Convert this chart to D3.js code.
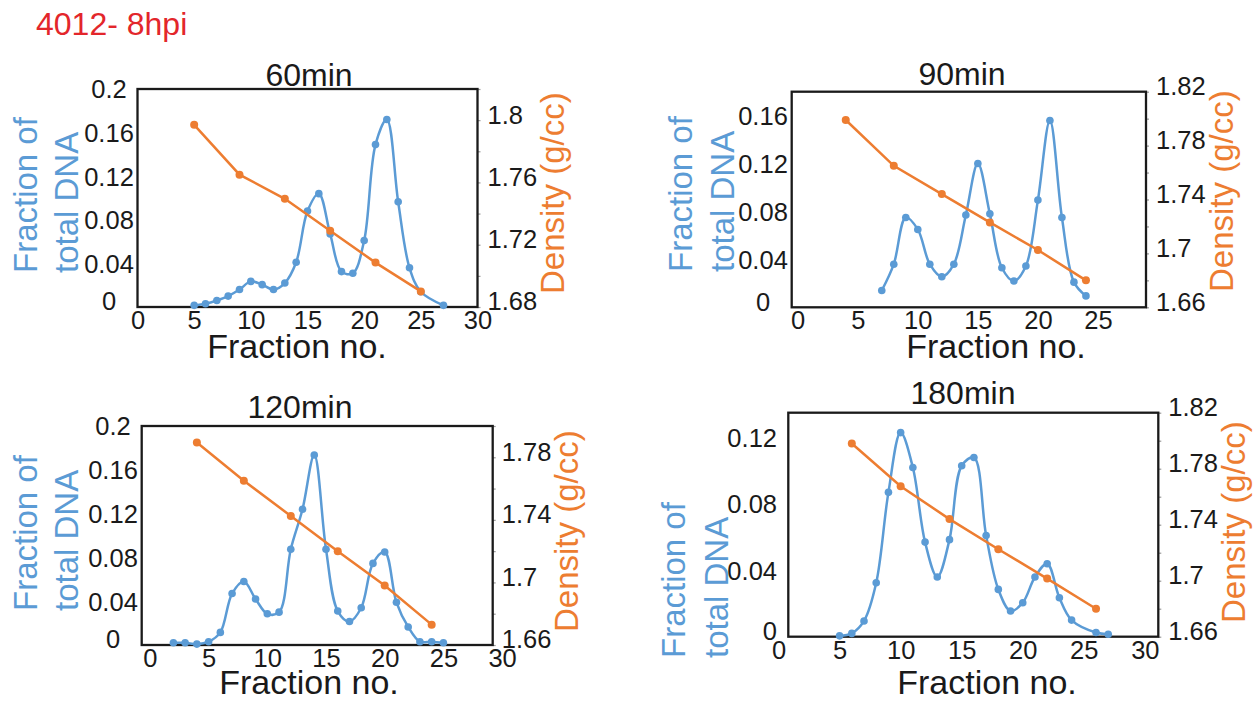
<!DOCTYPE html>
<html>
<head>
<meta charset="utf-8">
<script src="https://cdn.jsdelivr.net/npm/d3@7/dist/d3.min.js"></script>
<style>
  html, body { margin: 0; padding: 0; background: #ffffff; }
  svg { display: block; }
</style>
</head>
<body>
<script>
// ---- CsCl gradient profiles: fraction of total DNA (blue) and density (orange) ----

// 60 min
const fractions60 = [5, 6, 7, 8, 9, 10, 11, 12, 13, 14, 15, 16, 17, 18, 19, 20, 21, 22, 23, 24, 25, 27];
const dna60 = [0.0015, 0.003, 0.006, 0.010, 0.016, 0.0235, 0.0205, 0.016, 0.022, 0.041, 0.088, 0.104, 0.067, 0.0325, 0.031, 0.061, 0.149, 0.172, 0.0965, 0.036, 0.014, 0.0015];
const densityFractions60 = [5, 9, 13, 17, 21, 25];
const density60 = [1.797, 1.765, 1.7495, 1.729, 1.7085, 1.690];

// 90 min
const fractions90 = [7, 8, 9, 10, 11, 12, 13, 14, 15, 16, 17, 18, 19, 20, 21, 22, 23, 24];
const dna90 = [0.014, 0.036, 0.075, 0.065, 0.036, 0.0255, 0.036, 0.077, 0.120, 0.078, 0.033, 0.022, 0.0345, 0.0895, 0.156, 0.075, 0.021, 0.0095];
const densityFractions90 = [4, 8, 12, 16, 20, 24];
const density90 = [1.799, 1.765, 1.744, 1.723, 1.7025, 1.680];

// 120 min
const fractions120 = [2, 3, 4, 5, 6, 7, 8, 9, 10, 11, 12, 13, 14, 15, 16, 17, 18, 19, 20, 21, 22, 23, 24, 25];
const dna120 = [0.002, 0.002, 0.0008, 0.003, 0.0115, 0.047, 0.058, 0.042, 0.0285, 0.030, 0.0875, 0.124, 0.1735, 0.0875, 0.031, 0.0215, 0.034, 0.0745, 0.085, 0.039, 0.0165, 0.003, 0.003, 0.002];
const densityFractions120 = [4, 8, 12, 16, 20, 24];
const density120 = [1.7895, 1.765, 1.7425, 1.720, 1.698, 1.673];

// 180 min
const fractions180 = [5, 6, 7, 8, 9, 10, 11, 12, 13, 14, 15, 16, 17, 18, 19, 20, 21, 22, 23, 24, 26, 27];
const dna180 = [0.0005, 0.002, 0.0095, 0.0325, 0.087, 0.123, 0.102, 0.057, 0.036, 0.0585, 0.103, 0.108, 0.061, 0.0285, 0.0155, 0.0205, 0.036, 0.044, 0.0235, 0.010, 0.0025, 0.0015];
const densityFractions180 = [6, 10, 14, 18, 22, 26];
const density180 = [1.798, 1.7675, 1.744, 1.7225, 1.7015, 1.680];

// axis tick labels
const xTicksTo30 = [0, 5, 10, 15, 20, 25, 30];
const xTicksTo25 = [0, 5, 10, 15, 20, 25];
const dnaTicks02 = [0, 0.04, 0.08, 0.12, 0.16, 0.2];
const dnaTicks016 = [0, 0.04, 0.08, 0.12, 0.16];
const dnaTicks012 = [0, 0.04, 0.08, 0.12];
const densityTicks168 = [1.68, 1.72, 1.76, 1.8];
const densityTicks166 = [1.66, 1.7, 1.74, 1.78, 1.82];
const densityTicks166s = [1.66, 1.7, 1.74, 1.78];

const BLUE = "#5b9bd5";
const ORANGE = "#ed7d31";
const INK = "#1a1a1a";
const FONT = "'Liberation Sans', Arial, Helvetica, sans-serif";
const fmt = d => String(+d.toFixed(2));

const svg = d3.select("body").append("svg")
  .attr("width", 1258).attr("height", 702)
  .attr("font-family", FONT);

svg.append("text")
  .attr("x", 36).attr("y", 35)
  .attr("font-size", 32)
  .attr("fill", "#e3262b")
  .text("4012- 8hpi");

function drawPanel(p) {
  const b = p.box;
  const x = d3.scaleLinear().domain(p.xDomain).range([b.x0, b.x1]);
  const y = d3.scaleLinear().domain(p.yDomain).range([b.y1, b.y0]);
  const y2 = d3.scaleLinear().domain(p.y2Domain).range([b.y1, b.y0]);
  const g = svg.append("g");

  // small gray ticks every 0.02 g/cc on the density axis
  const nMinor = Math.round((p.y2Domain[1] - p.y2Domain[0]) / 0.02);
  const minor = d3.range(nMinor + 1).map(i => p.y2Domain[0] + i * 0.02);
  const minorAxis = g.append("g")
    .attr("transform", `translate(${b.x1},0)`)
    .call(d3.axisRight(y2).tickValues(minor).tickSize(3).tickFormat(""));
  minorAxis.select(".domain").remove();
  minorAxis.selectAll("line").attr("stroke", "#9a9a9a").attr("stroke-width", 1.2);

  // density labels (right)
  const rAxis = g.append("g")
    .attr("transform", `translate(${b.x1},0)`)
    .call(d3.axisRight(y2).tickValues(p.y2Ticks).tickSize(0).tickPadding(p.rightPad).tickFormat(fmt));
  rAxis.select(".domain").remove();
  rAxis.attr("font-family", FONT).attr("font-size", 25.5);
  rAxis.selectAll("text").attr("fill", INK).attr("dy", "0.35em")
    .attr("transform", "translate(0,-6)");

  // DNA fraction labels (left)
  const lAxis = g.append("g")
    .attr("transform", `translate(${b.x0},0)`)
    .call(d3.axisLeft(y).tickValues(p.yTicks).tickSize(0).tickFormat(fmt));
  lAxis.select(".domain").remove();
  lAxis.attr("font-family", FONT).attr("font-size", 25.5);
  lAxis.selectAll("text")
    .attr("fill", INK)
    .attr("x", p.leftLabelX - b.x0)
    .attr("text-anchor", p.leftAnchor)
    .attr("dy", "0.35em")
    .attr("transform", d => d === 0 ? "translate(0,-6)" : null);

  // fraction number labels (bottom)
  const bAxis = g.append("g")
    .attr("transform", `translate(0,${b.y1})`)
    .call(d3.axisBottom(x).tickValues(p.xTicks).tickSize(0).tickPadding(0).tickFormat(d3.format("d")));
  bAxis.select(".domain").remove();
  bAxis.attr("font-family", FONT).attr("font-size", 25.5);
  bAxis.selectAll("text").attr("fill", INK).attr("y", 22).attr("dy", null);

  // plot frame
  g.append("rect")
    .attr("x", b.x0).attr("y", b.y0)
    .attr("width", b.x1 - b.x0).attr("height", b.y1 - b.y0)
    .attr("fill", "none").attr("stroke", INK).attr("stroke-width", 2.3);

  // DNA profile, smoothed
  const dnaPts = p.fractions.map((f, i) => [f, p.dna[i]]);
  g.append("path")
    .datum(dnaPts)
    .attr("fill", "none").attr("stroke", BLUE).attr("stroke-width", 2.5)
    .attr("d", d3.line().x(d => x(d[0])).y(d => y(d[1])).curve(d3.curveCatmullRom.alpha(0.5)));
  g.append("g").selectAll("circle").data(dnaPts).join("circle")
    .attr("cx", d => x(d[0])).attr("cy", d => y(d[1])).attr("r", 3.8).attr("fill", BLUE);

  // density gradient
  const denPts = p.densityFractions.map((f, i) => [f, p.density[i]]);
  g.append("path")
    .datum(denPts)
    .attr("fill", "none").attr("stroke", ORANGE).attr("stroke-width", 2.5)
    .attr("d", d3.line().x(d => x(d[0])).y(d => y2(d[1])));
  g.append("g").selectAll("circle").data(denPts).join("circle")
    .attr("cx", d => x(d[0])).attr("cy", d => y2(d[1])).attr("r", 4).attr("fill", ORANGE);

  // titles
  g.append("text")
    .attr("x", p.titleX).attr("y", p.titleY)
    .attr("text-anchor", "middle").attr("font-size", 32).attr("fill", INK)
    .text(p.title);
  g.append("text")
    .attr("x", p.xTitleX).attr("y", p.xTitleY)
    .attr("text-anchor", "middle").attr("font-size", 34).attr("fill", INK)
    .text("Fraction no.");
  [["Fraction of", p.leftTitleX1], ["total DNA", p.leftTitleX2]].forEach(([t, bx]) => {
    g.append("text")
      .attr("transform", `translate(${bx},${p.leftTitleBottom}) rotate(-90)`)
      .attr("text-anchor", "start").attr("font-size", 33).attr("fill", BLUE)
      .text(t);
  });
  g.append("text")
    .attr("transform", `translate(${p.densTitleX},${p.densTitleBottom}) rotate(-90)`)
    .attr("text-anchor", "start").attr("font-size", 33).attr("fill", ORANGE)
    .text("Density (g/cc)");
}

drawPanel({
  title: "60min", titleX: 309, titleY: 86,
  box: { x0: 137.5, x1: 477.5, y0: 89, y1: 307 },
  xDomain: [0, 30], xTicks: xTicksTo30,
  yDomain: [0, 0.2], yTicks: dnaTicks02,
  y2Domain: [1.68, 1.82], y2Ticks: densityTicks168,
  leftLabelX: 109, leftAnchor: "middle", rightPad: 10,
  xTitleX: 297, xTitleY: 358,
  leftTitleX1: 37, leftTitleX2: 78, leftTitleBottom: 273,
  densTitleX: 564, densTitleBottom: 294,
  fractions: fractions60, dna: dna60, densityFractions: densityFractions60, density: density60
});

drawPanel({
  title: "90min", titleX: 962, titleY: 85,
  box: { x0: 791.7, x1: 1146, y0: 91.7, y1: 307.3 },
  xDomain: [-0.5, 29], xTicks: xTicksTo25,
  yDomain: [0, 0.18], yTicks: dnaTicks016,
  y2Domain: [1.66, 1.82], y2Ticks: densityTicks166,
  leftLabelX: 763, leftAnchor: "middle", rightPad: 10,
  xTitleX: 996, xTitleY: 358,
  leftTitleX1: 692, leftTitleX2: 734, leftTitleBottom: 272,
  densTitleX: 1233, densTitleBottom: 292,
  fractions: fractions90, dna: dna90, densityFractions: densityFractions90, density: density90
});

drawPanel({
  title: "120min", titleX: 300, titleY: 418,
  box: { x0: 141.7, x1: 492.7, y0: 426, y1: 645 },
  xDomain: [-0.7, 29.2], xTicks: xTicksTo30,
  yDomain: [0, 0.2], yTicks: dnaTicks02,
  y2Domain: [1.66, 1.80], y2Ticks: densityTicks166s,
  leftLabelX: 113, leftAnchor: "middle", rightPad: 9,
  xTitleX: 309, xTitleY: 694,
  leftTitleX1: 37, leftTitleX2: 78, leftTitleBottom: 611,
  densTitleX: 578, densTitleBottom: 632,
  fractions: fractions120, dna: dna120, densityFractions: densityFractions120, density: density120
});

drawPanel({
  title: "180min", titleX: 963, titleY: 404,
  box: { x0: 788.3, x1: 1158.3, y0: 412.7, y1: 636.7 },
  xDomain: [0.8, 31.1], xTicks: xTicksTo30,
  yDomain: [0, 0.135], yTicks: dnaTicks012,
  y2Domain: [1.66, 1.82], y2Ticks: densityTicks166,
  leftLabelX: 777, leftAnchor: "end", rightPad: 10,
  xTitleX: 987, xTitleY: 694,
  leftTitleX1: 685, leftTitleX2: 728, leftTitleBottom: 658,
  densTitleX: 1245, densTitleBottom: 623,
  fractions: fractions180, dna: dna180, densityFractions: densityFractions180, density: density180
});
</script>
</body>
</html>
